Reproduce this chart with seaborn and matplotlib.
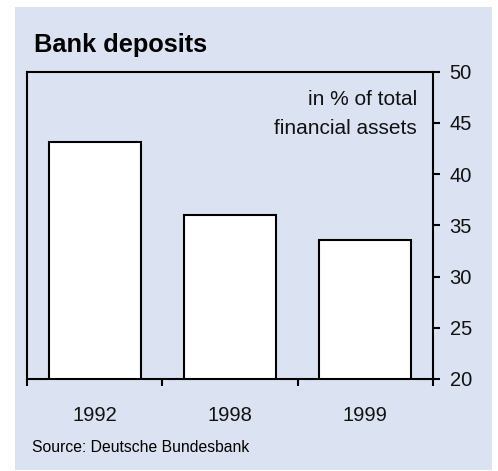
import matplotlib
matplotlib.use("Agg")
import matplotlib.pyplot as plt
import seaborn as sns
from matplotlib.patches import Rectangle
from matplotlib.ticker import FixedLocator, NullFormatter

# Data
years = ["1992", "1998", "1999"]
deposit_share = [43.1, 36.0, 33.6]
y_ticks = [20, 25, 30, 35, 40, 45, 50]
unit_lines = ["in % of total", "financial assets"]

panel_color = "#dbe2f1"
W, H = 498, 471
DPI = 100

sns.set_theme(style="white")
plt.rcParams["font.family"] = ["Liberation Sans", "DejaVu Sans"]

fig = plt.figure(figsize=(W / DPI, H / DPI), dpi=DPI, facecolor="white")

# light-blue background panel, drawn beneath the axes
fig.patches.append(Rectangle((15 / W, 1 - 470 / H), (492 - 15) / W, (470 - 7) / H,
                             transform=fig.transFigure, facecolor=panel_color,
                             edgecolor="none", zorder=-5))

left, right, top, bottom = 27, 433, 71.5, 379
ax = fig.add_axes([left / W, 1 - bottom / H, (right - left) / W, (bottom - top) / H])
ax.set_facecolor(panel_color)

sns.barplot(x=years, y=deposit_share, color="white", edgecolor="black",
            linewidth=1.5, width=0.68, saturation=1, ax=ax)

ax.set_ylim(20, 50)
ax.set_xlim(-0.5, len(years) - 0.5)

for s in ax.spines.values():
    s.set_visible(True)
    s.set_color("black")
    s.set_linewidth(1.5)

# y axis on the right
ax.yaxis.tick_right()
ax.set_yticks(y_ticks)
ax.set_yticklabels([str(t) for t in y_ticks])
ax.tick_params(axis="y", which="major", direction="out", length=5, width=1.5,
               color="black", pad=7, labelsize=14.5, labelcolor="#111111",
               right=True, left=False)

# x axis: ticks at category boundaries, labels centred on the bars
ax.xaxis.set_major_locator(FixedLocator([-0.5, 0.5, 1.5, 2.5]))
ax.xaxis.set_major_formatter(NullFormatter())
ax.xaxis.set_minor_locator(FixedLocator(range(len(years))))
ax.set_xticklabels(years, minor=True)
ax.tick_params(axis="x", which="major", direction="out", length=5, width=1.5,
               color="black", bottom=True)
ax.tick_params(axis="x", which="minor", length=0, pad=19.5, labelsize=14.5,
               labelcolor="#111111")
ax.set_xlabel("")
ax.set_ylabel("")

# unit note, right-aligned inside the plot area
for line, baseline_px in zip(unit_lines, [104.5, 134.5]):
    fig.text(417 / W, 1 - baseline_px / H, line, ha="right", va="baseline",
             fontsize=15, color="#111111")

fig.text(34 / W, 1 - 51.7 / H, "Bank deposits", fontsize=18.3, fontweight="bold",
         ha="left", va="baseline", color="black")
fig.text(32 / W, 1 - 451.5 / H, "Source: Deutsche Bundesbank", fontsize=11.3,
         ha="left", va="baseline", color="black")

fig.savefig("out.png", dpi=DPI, facecolor="white")
